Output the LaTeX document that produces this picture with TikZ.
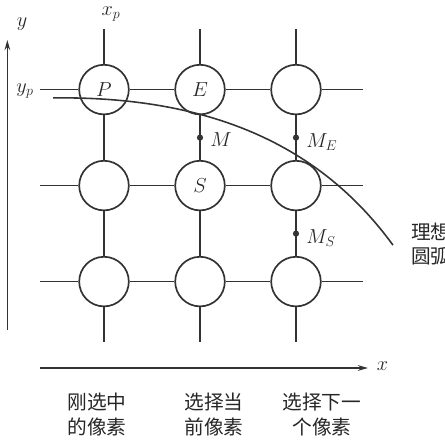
\documentclass[tikz,border=0pt]{standalone}
\usepackage{fix-cm}
\usepackage{fontspec}
\newfontfamily\cjk{Noto Sans CJK SC}
\usetikzlibrary{positioning,arrows.meta}
\begin{document}
\begin{tikzpicture}[
    pixel/.style={circle, draw=black!80, line width=1.5pt, minimum size=1.55cm, inner sep=0pt, text=black!85, font=\fontsize{18}{21}\selectfont},
    gridline/.style={draw=black!80, line width=1.5pt},
    axis/.style={draw=black!80, line width=1.4pt, -{Stealth[length=9pt,width=5pt]}},
    midDot/.style={circle, fill=black!80, minimum size=5.5pt, inner sep=0pt},
    lbl/.style={inner sep=1pt, text=black!85, font=\fontsize{18}{21}\selectfont},
    pixText/.style={align=center, text=black!85, font=\cjk\fontsize{17.5}{22}\selectfont},
    arcline/.style={draw=black!80, line width=1.4pt}
]
    \useasboundingbox (0,0) rectangle (13.906,13.75);

    \node[pixel] (p) at (3.25,10.95) {$P$};
    \node[pixel] (e) at (6.25,10.95) {$E$};
    \node[pixel] (topRight) at (9.25,10.95) {};
    \node[pixel] (midLeft) at (3.25,7.95) {};
    \node[pixel] (s) at (6.25,7.95) {$S$};
    \node[pixel] (midRight) at (9.25,7.95) {};
    \node[pixel] (lowLeft) at (3.25,4.95) {};
    \node[pixel] (lowMid) at (6.25,4.95) {};
    \node[pixel] (lowRight) at (9.25,4.95) {};

    \coordinate (rowTopW) at (1.25,10.95);
    \coordinate (rowTopE) at (11.35,10.95);
    \coordinate (rowMidW) at (1.25,7.95);
    \coordinate (rowMidE) at (11.35,7.95);
    \coordinate (rowLowW) at (1.25,4.95);
    \coordinate (rowLowE) at (11.35,4.95);
    \coordinate (colLeftN) at (3.25,12.85);
    \coordinate (colMidN) at (6.25,12.85);
    \coordinate (colRightN) at (9.25,12.85);
    \coordinate (colLeftS) at (3.25,3.05);
    \coordinate (colMidS) at (6.25,3.05);
    \coordinate (colRightS) at (9.25,3.05);

    \draw[gridline] (rowTopW) -- (p) (p) -- (e) (e) -- (topRight) (topRight) -- (rowTopE);
    \draw[gridline] (rowMidW) -- (midLeft) (midLeft) -- (s) (s) -- (midRight) (midRight) -- (rowMidE);
    \draw[gridline] (rowLowW) -- (lowLeft) (lowLeft) -- (lowMid) (lowMid) -- (lowRight) (lowRight) -- (rowLowE);
    \draw[gridline] (colLeftN) -- (p) (p) -- (midLeft) (midLeft) -- (lowLeft) (lowLeft) -- (colLeftS);
    \draw[gridline] (colMidN) -- (e) (e) -- (s) (s) -- (lowMid) (lowMid) -- (colMidS);
    \draw[gridline] (colRightN) -- (topRight) (topRight) -- (midRight) (midRight) -- (lowRight) (lowRight) -- (colRightS);

    \node[midDot] (mDot) at (6.25,9.45) {};
    \node[midDot] (meDot) at (9.25,9.45) {};
    \node[midDot] (msDot) at (9.25,6.45) {};
    \node[lbl, right=0.18cm of mDot, yshift=-2pt] (mLbl) {$M$};
    \node[lbl, right=0.18cm of meDot, yshift=-4pt] (meLbl) {$M_E$};
    \node[lbl, right=0.18cm of msDot, yshift=-4pt] (msLbl) {$M_S$};

    \coordinate (arcStart) at (1.66,10.69);
    \coordinate (arcEnd) at (12.28,6.09);
    \draw[arcline] (arcStart) .. controls (6.56,10.75) and (10.0,9.22) .. (arcEnd);

    \coordinate (yAxisS) at (0.23,3.44);
    \coordinate (yAxisN) at (0.23,12.5);
    \coordinate (xAxisW) at (1.25,2.25);
    \coordinate (xAxisE) at (11.5,2.25);
    \draw[axis] (yAxisS) -- (yAxisN);
    \draw[axis] (xAxisW) -- (xAxisE);

    \node[lbl] (yLbl) at (0.69,13.0) {$y$};
    \node[lbl] (xLbl) at (11.95,2.32) {$x$};
    \node[lbl] (xpLbl) at (3.47,13.31) {$x_p$};
    \node[lbl] (ypLbl) at (0.78,10.9) {$y_p$};

    \node[pixText] (justPicked) at (3.03,0.8) {刚选中\\的像素};
    \node[pixText] (curPicked) at (6.69,0.8) {选择当\\前像素};
    \node[pixText] (nextPicked) at (10.06,0.8) {选择下一\\个像素};
    \node[pixText, anchor=west, align=left] (arcText) at (12.72,6.12) {理想\\圆弧};
\end{tikzpicture}
\end{document}
